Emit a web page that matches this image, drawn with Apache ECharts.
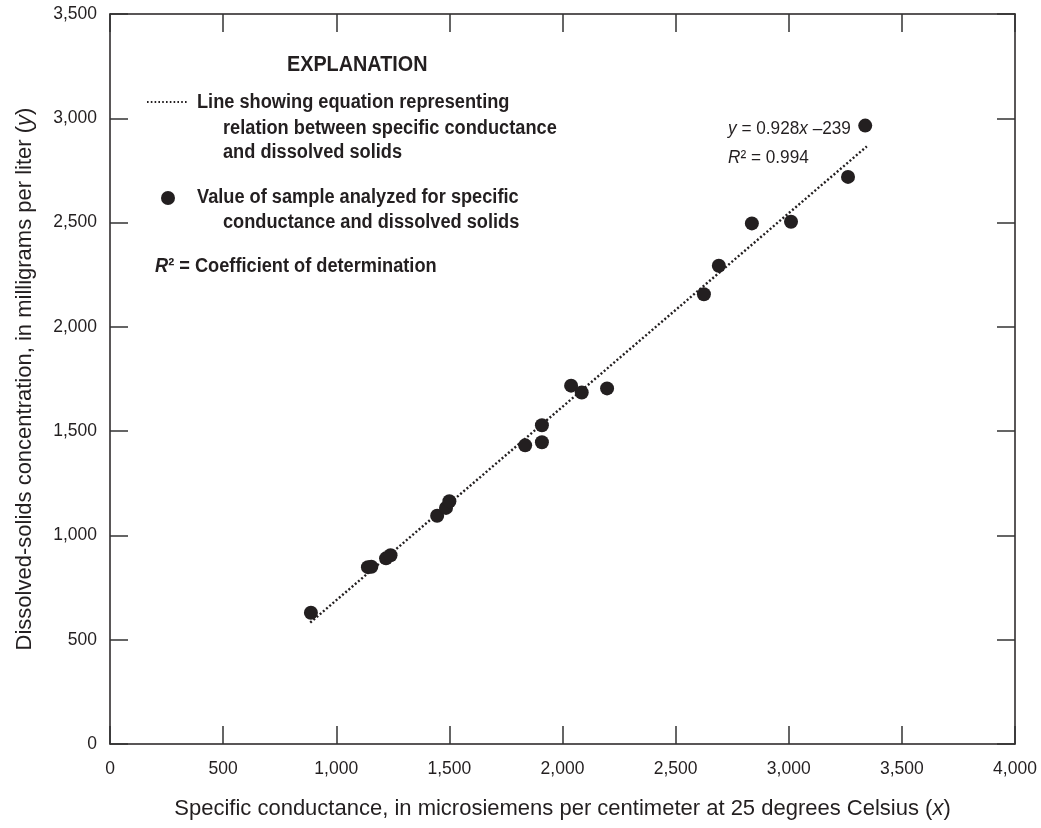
<!DOCTYPE html>
<html>
<head>
<meta charset="utf-8">
<script src="https://cdn.jsdelivr.net/npm/echarts@6/dist/echarts.min.js"></script>
<style>
  html, body { margin: 0; padding: 0; background: #ffffff; }
  #chart { width: 1041px; height: 828px; }
</style>
</head>
<body>
<div id="chart"></div>
<script>
// Specific conductance (x, µS/cm at 25 °C) of each analyzed sample
const conductance = [888, 1140, 1155, 1220, 1240, 1446, 1485, 1500, 1835, 1909,
                     1909, 2038, 2085, 2197, 2625, 2691, 2837, 3010, 3262, 3338];
// Dissolved-solids concentration (y, mg/L) of the same samples
const dissolvedSolids = [629, 848, 850, 890, 905, 1094, 1132, 1164, 1432, 1528,
                         1447, 1718, 1685, 1705, 2156, 2293, 2496, 2504, 2719, 2965];

// Regression equation and the conductance range it is drawn over
const fitSlope = 0.928;
const fitIntercept = -239;
const fitRange = [885, 3345];

// Axis ticks
const xTicks = [0, 500, 1000, 1500, 2000, 2500, 3000, 3500, 4000];
const yTicks = [0, 500, 1000, 1500, 2000, 2500, 3000, 3500];

const FONT = "'Liberation Sans', Arial, sans-serif";
const INK = '#231f20';
const CONDENSE = 0.91;   // horizontal squeeze for the explanation text

const points = conductance.map((x, i) => [x, dissolvedSolids[i]]);
const fitLine = fitRange.map(x => [x, fitSlope * x + fitIntercept]);

const fmt = v => v.toLocaleString('en-US');

function axisBase(showLabels, margin) {
  return {
    type: 'value',
    min: 0,
    interval: 500,
    axisLine: { show: true, onZero: false, lineStyle: { color: INK, width: 1.5 } },
    axisTick: { show: true, inside: true, length: 18, lineStyle: { color: '#333', width: 1.5 } },
    splitLine: { show: false },
    axisLabel: {
      show: showLabels,
      margin: margin || 8,
      color: INK,
      fontFamily: FONT,
      fontSize: 17.5,
      formatter: fmt
    }
  };
}

const titleStyle = {
  color: INK, fontFamily: FONT, fontSize: 22,
  rich: { i: { fontStyle: 'italic', fontFamily: FONT, fontSize: 22, color: INK } }
};

const chart = echarts.init(document.getElementById('chart'), null, { renderer: 'canvas' });

const legendFont = 'bold 20px ' + FONT;
function legendText(x, y, text, extra) {
  return {
    type: 'text', x: x, y: y, scaleX: CONDENSE,
    style: Object.assign({ text: text, font: legendFont, fill: INK, verticalAlign: 'middle' }, extra || {})
  };
}

chart.setOption({
  animation: false,
  backgroundColor: '#ffffff',
  grid: { left: 110, right: 26, top: 14, bottom: 84, containLabel: false },
  xAxis: [
    Object.assign(axisBase(true, 16), {
      position: 'bottom',
      max: xTicks[xTicks.length - 1],
      name: 'Specific conductance, in microsiemens per centimeter at 25 degrees Celsius ({i|x})',
      nameLocation: 'middle',
      nameGap: 54,
      nameTextStyle: titleStyle
    }),
    Object.assign(axisBase(false), { position: 'top', max: xTicks[xTicks.length - 1] })
  ],
  yAxis: [
    Object.assign(axisBase(true, 13), {
      position: 'left',
      max: yTicks[yTicks.length - 1],
      name: 'Dissolved-solids concentration, in milligrams per liter ({i|y})',
      nameLocation: 'middle',
      nameGap: 74,
      nameTextStyle: titleStyle
    }),
    Object.assign(axisBase(false), { position: 'right', max: yTicks[yTicks.length - 1] })
  ],
  series: [
    {
      type: 'line',
      data: fitLine,
      showSymbol: false,
      symbol: 'none',
      lineStyle: { color: INK, width: 2.4, type: [2, 2.2] },
      z: 2,
      silent: true
    },
    {
      type: 'scatter',
      data: points,
      symbol: 'circle',
      symbolSize: 14,
      itemStyle: { color: INK, opacity: 1 },
      z: 3,
      silent: true
    }
  ],
  graphic: [
    // Explanation block
    { type: 'text', x: 287, y: 65, scaleX: 0.9,
      style: { text: 'EXPLANATION', font: 'bold 22px ' + FONT, fill: INK, verticalAlign: 'middle' } },
    { type: 'line', shape: { x1: 147, y1: 102, x2: 188, y2: 102 },
      style: { stroke: INK, lineWidth: 2, lineDash: [1.6, 2.2] } },
    legendText(197, 102, 'Line showing equation representing'),
    legendText(223, 128, 'relation between specific conductance'),
    legendText(223, 152, 'and dissolved solids'),
    { type: 'circle', shape: { cx: 168, cy: 198, r: 7 }, style: { fill: INK } },
    legendText(197, 197, 'Value of sample analyzed for specific'),
    legendText(223, 222, 'conductance and dissolved solids'),
    legendText(155, 266, '{i|R}\u00b2 = Coefficient of determination', {
      rich: { i: { font: 'italic bold 20px ' + FONT, fill: INK } }
    }),
    // Regression annotation
    { type: 'text', x: 728, y: 129, scaleX: 0.93, style: {
        text: '{i|y} = 0.928{i|x} \u2013239', font: '18.5px ' + FONT, fill: INK, verticalAlign: 'middle',
        rich: { i: { font: 'italic 18.5px ' + FONT, fill: INK } }
      } },
    { type: 'text', x: 728, y: 158, scaleX: 0.93, style: {
        text: '{i|R}\u00b2 = 0.994', font: '18.5px ' + FONT, fill: INK, verticalAlign: 'middle',
        rich: { i: { font: 'italic 18.5px ' + FONT, fill: INK } }
      } }
  ]
});
</script>
</body>
</html>
